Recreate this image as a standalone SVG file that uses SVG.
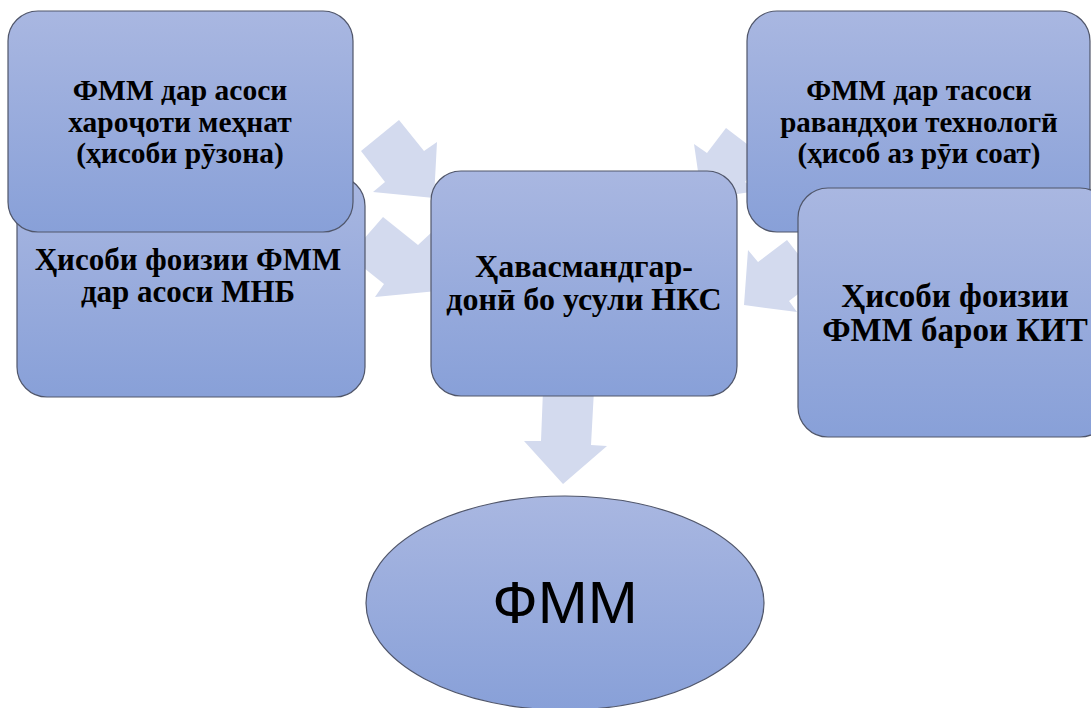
<svg xmlns="http://www.w3.org/2000/svg" width="1091" height="708" viewBox="0 0 1091 708">
<defs>
<linearGradient id="g" x1="0" y1="0" x2="0" y2="1">
<stop offset="0" stop-color="#a9b7e1"/>
<stop offset="1" stop-color="#88a0d8"/>
</linearGradient>
<style>
.box{fill:url(#g);stroke:#50566a;stroke-width:1.2}
.arr{fill:#d3daee}
.t{font-family:'Liberation Serif','DejaVu Serif',serif;font-weight:700;fill:#000;text-anchor:middle}
.s{font-family:'Liberation Sans',Arial,sans-serif;font-size:60px;fill:#000;text-anchor:middle}
</style>
</defs>
<rect width="1091" height="708" fill="#fff"/>
<g id="connectors">
<polygon class="arr" points="361,151 399,120 424,151 437,142 434,198 373,192 385,182"/>
<polygon class="arr" points="349,256 383,217 418,245 432,232 437,291 375,297 384,284"/>
<polygon class="arr" points="694,144 707,153 726,128 764,157 745,182 758,191 702,199"/>
<polygon class="arr" points="748,250 758,262 787,240 818,279 789,301 797,312 744,305"/>
<polygon class="arr" points="543,390 594,390 591,445 607,446 563,484 524,441 541,441"/>
</g>
<g id="n2">
<rect class="box" x="17" y="176" width="348" height="221" rx="30"/>
<text class="t" x="188" y="270" font-size="31">Ҳисоби фоизии ФММ</text>
<text class="t" x="188" y="302" font-size="31">дар асоси МНБ</text>
</g>
<g id="n1">
<rect class="box" x="8" y="11" width="345" height="221" rx="30"/>
<text class="t" x="180" y="100" font-size="29.5">ФММ дар асоси</text>
<text class="t" x="180" y="132" font-size="29.5">хароҷоти меҳнат</text>
<text class="t" x="180" y="163" font-size="29.5">(ҳисоби рӯзона)</text>
</g>
<g id="n3">
<rect class="box" x="747" y="11" width="343" height="221" rx="30"/>
<text class="t" x="919" y="100" font-size="29">ФММ дар тасоси</text>
<text class="t" x="919" y="132" font-size="29">равандҳои технологӣ</text>
<text class="t" x="919" y="163" font-size="29">(ҳисоб аз рӯи соат)</text>
</g>
<g id="n4">
<rect class="box" x="798" y="188" width="312" height="249" rx="30"/>
<text class="t" x="955" y="307" font-size="33">Ҳисоби фоизии</text>
<text class="t" x="955" y="341" font-size="33">ФММ барои КИТ</text>
</g>
<g id="n0">
<rect class="box" x="431" y="171" width="306" height="225" rx="30"/>
<text class="t" x="584" y="277" font-size="32">Ҳавасмандгар-</text>
<text class="t" x="584" y="310" font-size="32">донӣ бо усули НКС</text>
</g>
<g id="n5">
<ellipse class="box" cx="565" cy="603" rx="199" ry="107"/>
<text class="s" x="565" y="623">ФММ</text>
</g>
</svg>
